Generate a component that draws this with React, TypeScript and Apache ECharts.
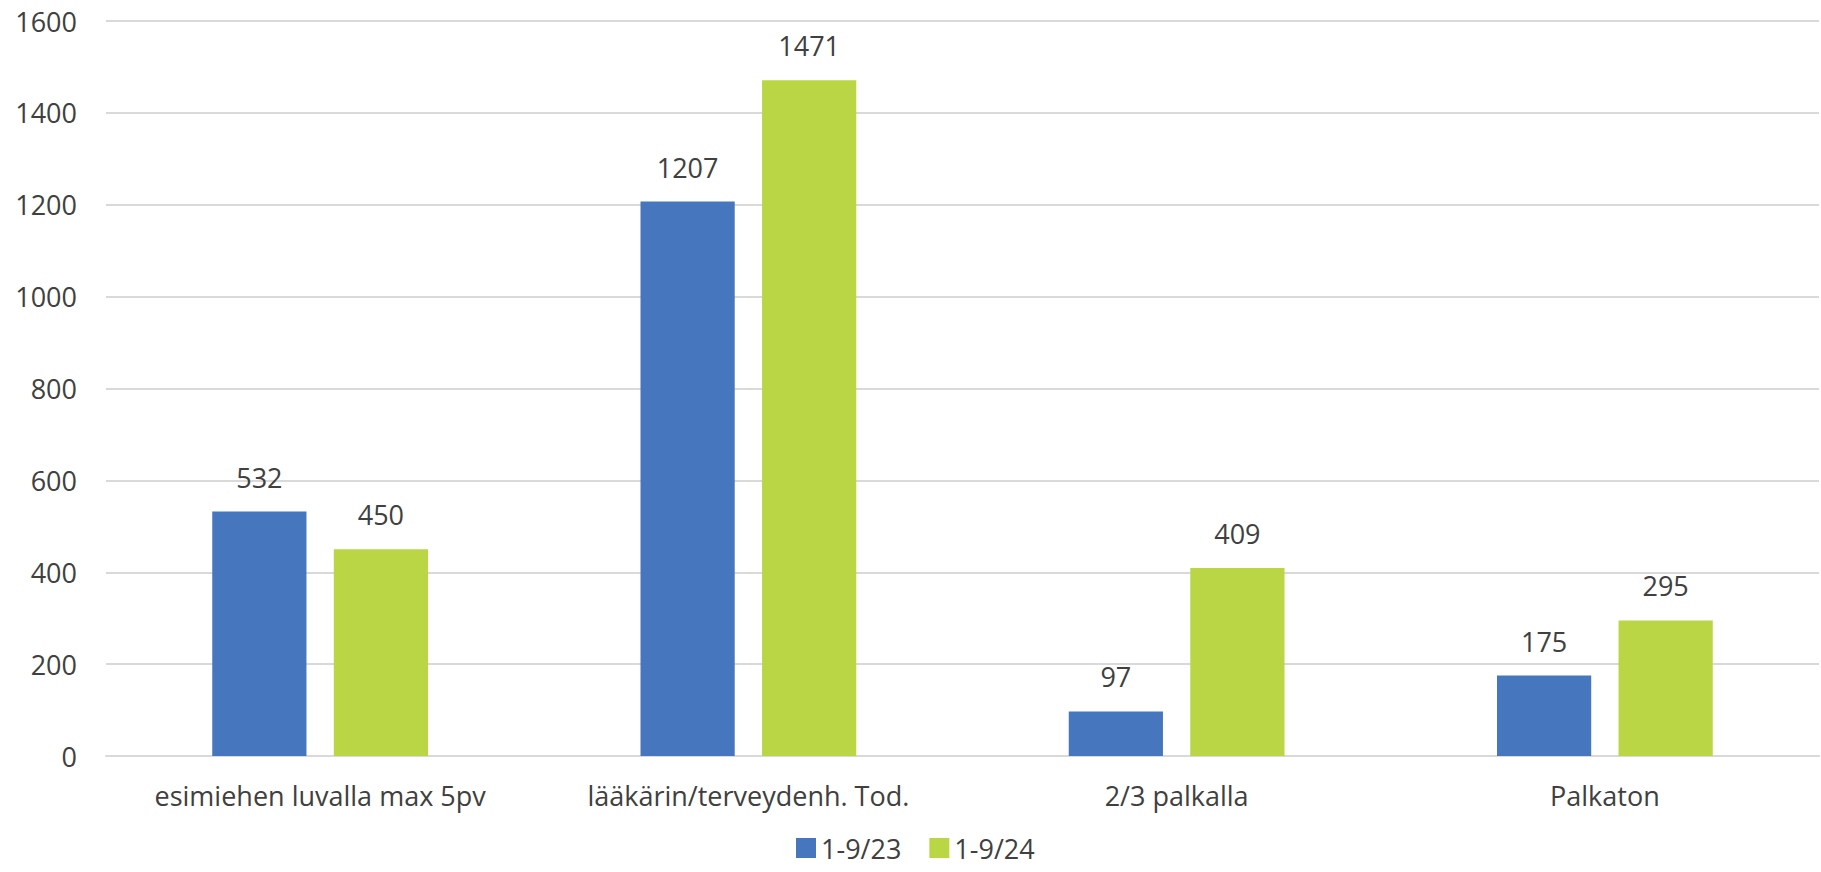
import React, { useEffect, useRef } from "react";
import * as echarts from "echarts";

const categories = [
  "esimiehen luvalla max 5pv",
  "lääkärin/terveydenh. Tod.",
  "2/3 palkalla",
  "Palkaton",
];
const series2023 = [532, 1207, 97, 175];
const series2024 = [450, 1471, 409, 295];
const seriesNames = ["1-9/23", "1-9/24"];
const yTicks = { min: 0, max: 1600, interval: 200 };

const FONT = "'Open Sans', 'Liberation Sans', sans-serif";
const TXT = "#404040";

export default function App() {
  const ref = useRef<HTMLDivElement>(null);
  useEffect(() => {
    if (!ref.current) return;
    const chart = echarts.init(ref.current, undefined, { renderer: "svg" });
    const label = {
      show: true,
      position: "top",
      distance: 21,
      color: TXT,
      fontSize: 27,
      fontFamily: FONT,
    };
    chart.setOption({
      animation: false,
      backgroundColor: "#ffffff",
      textStyle: { fontFamily: FONT },
      grid: { left: 106, right: 2, top: 21, bottom: 116, containLabel: false },
      legend: {
        data: seriesNames,
        left: 796,
        top: 834,
        padding: 0,
        itemWidth: 20,
        itemHeight: 20,
        itemGap: 28,
        icon: "rect",
        textStyle: { color: TXT, fontSize: 27, fontFamily: FONT, lineHeight: 28, padding: [0, 0, 0, 0] },
      },
      xAxis: {
        type: "category",
        data: categories,
        axisLine: { show: true, lineStyle: { color: "#D9D9D9", width: 2 } },
        axisTick: { show: false },
        axisLabel: { color: TXT, fontSize: 27, fontFamily: FONT, margin: 26, interval: 0 },
      },
      yAxis: {
        type: "value",
        min: yTicks.min,
        max: yTicks.max,
        interval: yTicks.interval,
        axisLine: { show: false },
        axisTick: { show: false },
        splitLine: { lineStyle: { color: "#D9D9D9", width: 2 } },
        axisLabel: {
          color: TXT,
          fontSize: 27,
          fontFamily: FONT,
          margin: 29,
          formatter: (v: number) => String(v),
        },
      },
      series: [
        {
          name: seriesNames[0],
          type: "bar",
          data: series2023,
          barWidth: "22%",
          barGap: "29%",
          itemStyle: { color: "#4677BE" },
          label,
        },
        {
          name: seriesNames[1],
          type: "bar",
          data: series2024,
          barWidth: "22%",
          barGap: "29%",
          itemStyle: { color: "#BAD645" },
          label,
        },
      ],
    });
    return () => chart.dispose();
  }, []);
  return (
    <div
      ref={ref}
      style={{ position: "fixed", left: 0, top: 0, width: 1821, height: 872 }}
    />
  );
}
